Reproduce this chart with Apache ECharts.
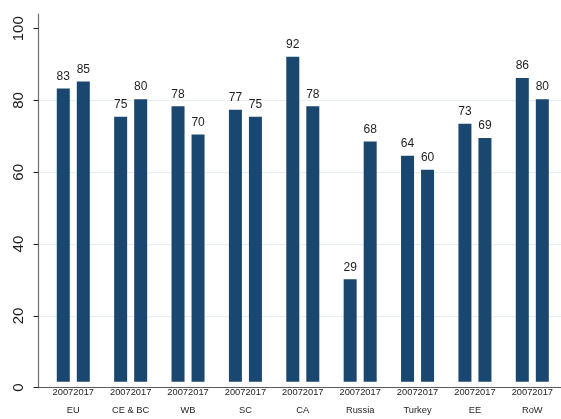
<!DOCTYPE html>
<html>
<head>
<meta charset="utf-8">
<script src="https://cdn.jsdelivr.net/npm/echarts@6/dist/echarts.min.js"></script>
<style>
html,body{margin:0;padding:0;background:#fff;}
#chart{width:561px;height:419px;}
</style>
</head>
<body>
<div id="chart"></div>
<script>
var categories = ['EU', 'CE & BC', 'WB', 'SC', 'CA', 'Russia', 'Turkey', 'EE', 'RoW'];
var years = ['2007', '2017'];
var values2007 = [83, 75, 78, 77, 92, 29, 64, 73, 86];
var values2017 = [85, 80, 70, 75, 78, 68, 60, 69, 80];
var yTicks = [0, 20, 40, 60, 80, 100];

var FONT = '"Liberation Sans", Arial, Helvetica, sans-serif';
var BAR = '#1a476f';
var TXT = '#1e1e1e';
var Y_MAX = 104.1;

var chart = echarts.init(document.getElementById('chart'), null, {renderer: 'canvas'});

function barSeries(name, data) {
  return {
    name: name,
    type: 'bar',
    xAxisIndex: 1,
    yAxisIndex: 1,
    data: data,
    barWidth: 13,
    barGap: '54%',
    itemStyle: {color: BAR},
    label: {
      show: true,
      position: 'top',
      distance: 6,
      fontFamily: FONT,
      fontSize: 12,
      color: TXT,
      formatter: '{c}'
    },
    emphasis: {disabled: true},
    animation: false
  };
}

var option = {
  animation: false,
  backgroundColor: '#ffffff',
  textStyle: {fontFamily: FONT},
  grid: [
    {left: 38.5, top: 14, bottom: 31.3, width: 532.5, containLabel: false},
    {left: 44.6, top: 14, bottom: 31.3, width: 519.75, containLabel: false}
  ],
  xAxis: [
    {
      gridIndex: 0, type: 'value', min: 0, max: 1,
      axisLine: {show: true, lineStyle: {color: '#5a5a5a', width: 1}},
      axisTick: {show: false}, axisLabel: {show: false}, splitLine: {show: false}
    },
    {
      gridIndex: 1, type: 'category', data: categories,
      axisLine: {show: false}, axisTick: {show: false}, splitLine: {show: false},
      axisLabel: {
        interval: 0,
        margin: 1.3,
        fontFamily: FONT,
        fontSize: 9.3,
        lineHeight: 18,
        color: TXT,
        formatter: function (v) { return years.join('') + '\n' + v; }
      }
    }
  ],
  yAxis: [
    {
      gridIndex: 0, type: 'value', min: 0, max: Y_MAX, interval: 20,
      axisLine: {show: true, lineStyle: {color: '#6e6e6e', width: 1.2}},
      axisTick: {show: true, length: 5, customValues: yTicks, lineStyle: {color: '#222', width: 1}},
      axisLabel: {
        show: true, customValues: yTicks, rotate: 90, margin: 12,
        fontFamily: FONT, fontSize: 15, color: TXT
      },
      splitLine: {show: true, showMaxLine: false, showMinLine: false, lineStyle: {color: '#e6eef0', width: 1}}
    },
    {
      gridIndex: 1, type: 'value', min: 0, max: Y_MAX, show: false,
      splitLine: {show: false}
    }
  ],
  series: [
    barSeries(years[0], values2007),
    barSeries(years[1], values2017)
  ]
};

chart.setOption(option);
</script>
</body>
</html>
